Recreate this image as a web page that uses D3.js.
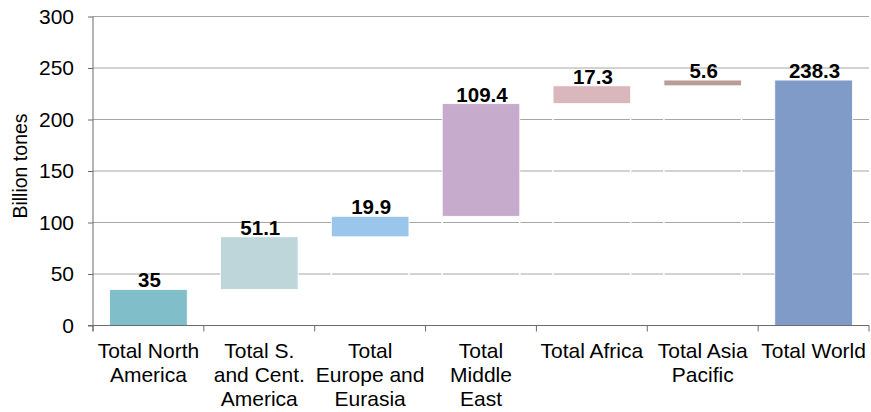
<!DOCTYPE html>
<html>
<head>
<meta charset="utf-8">
<script src="https://cdn.jsdelivr.net/npm/d3@7"></script>
<style>
  html, body { margin: 0; padding: 0; background: #fff; }
  svg { display: block; font-family: "Liberation Sans", Arial, sans-serif; }
</style>
</head>
<body>
<svg id="chart" width="871" height="412"></svg>
<script>
// Proved coal reserves by region (waterfall)
const regions = [
  ["Total North", "America"],
  ["Total S.", "and Cent.", "America"],
  ["Total", "Europe and", "Eurasia"],
  ["Total", "Middle", "East"],
  ["Total Africa"],
  ["Total Asia", "Pacific"],
  ["Total World"]
];
const values = [35, 51.1, 19.9, 109.4, 17.3, 5.6, 238.3];
const isTotal = [false, false, false, false, false, false, true];
const barColors = ["#80bfc9", "#bed5d9", "#99c6ea", "#c6abcc", "#d9b7bd", "#b89d99", "#809bc8"];
const yTicks = [0, 50, 100, 150, 200, 250, 300];

const svg = d3.select("#chart");
const plotLeft = 93, plotRight = 869, plotTop = 16.5, plotBottom = 325.5;

const keys = regions.map((r, i) => i);
const x = d3.scaleBand().domain(keys).range([plotLeft, plotRight]).padding(0);
const y = d3.scaleLinear().domain([0, 300]).range([plotBottom, plotTop]);

// running base for the floating bars
let running = 0;
const bars = values.map((v, i) => {
  let lo, hi;
  if (isTotal[i]) { lo = 0; hi = v; }
  else { lo = running; hi = running + v; running = hi; }
  return { i, v, lo, hi, color: barColors[i] };
});

const barW = x.bandwidth() * 0.7;
const bx = i => x(i) + (x.bandwidth() - barW) / 2;

// gridlines
svg.append("g")
  .selectAll("line")
  .data(yTicks.filter(t => t > 0))
  .join("line")
  .attr("x1", plotLeft).attr("x2", plotRight)
  .attr("y1", d => y(d)).attr("y2", d => y(d))
  .attr("stroke", "#a6a6a6").attr("stroke-width", 1);

// invisible base segments (white outline only)
svg.append("g")
  .selectAll("rect")
  .data(bars.filter(b => b.lo > 0))
  .join("rect")
  .attr("x", d => bx(d.i)).attr("width", barW)
  .attr("y", d => y(d.lo)).attr("height", d => y(0) - y(d.lo))
  .attr("fill", "none").attr("stroke", "#fff").attr("stroke-width", 1.5);

// visible bars
svg.append("g")
  .selectAll("rect")
  .data(bars)
  .join("rect")
  .attr("x", d => bx(d.i)).attr("width", barW)
  .attr("y", d => y(d.hi)).attr("height", d => y(d.lo) - y(d.hi))
  .attr("fill", d => d.color)
  .attr("stroke", "#fff").attr("stroke-width", 0.8);

// value labels
svg.append("g")
  .selectAll("text")
  .data(bars)
  .join("text")
  .attr("x", d => x(d.i) + x.bandwidth() / 2 + 1)
  .attr("y", d => y(d.hi) - 2)
  .attr("text-anchor", "middle")
  .attr("font-weight", "bold")
  .attr("font-size", 20.5)
  .attr("fill", "#000")
  .text(d => d.v);

// y axis
const yAxis = svg.append("g")
  .attr("transform", `translate(${plotLeft},0)`)
  .call(d3.axisLeft(y).tickValues(yTicks).tickSize(5).tickPadding(14).tickFormat(d3.format("d")));
yAxis.select(".domain").attr("stroke", "#6b6b6b").attr("d", `M0,${plotTop}V${plotBottom + 6}`);
yAxis.selectAll(".tick line").attr("stroke", "#6b6b6b");
yAxis.selectAll("text").attr("font-size", 21).attr("fill", "#000")
  .attr("font-family", "'Liberation Sans', Arial, sans-serif");

// x axis baseline and category separators
const xg = svg.append("g");
xg.append("line")
  .attr("x1", plotLeft - 5).attr("x2", plotRight)
  .attr("y1", plotBottom).attr("y2", plotBottom)
  .attr("stroke", "#6b6b6b");
xg.selectAll("line.sep")
  .data(keys.concat([keys.length]))
  .join("line")
  .attr("class", "sep")
  .attr("x1", d => d < keys.length ? x(d) : plotRight)
  .attr("x2", d => d < keys.length ? x(d) : plotRight)
  .attr("y1", plotBottom).attr("y2", plotBottom + 6)
  .attr("stroke", "#6b6b6b");

// category labels
const labels = svg.append("g")
  .selectAll("text")
  .data(regions.map((r, i) => ({ r, i })))
  .join("text")
  .attr("text-anchor", "middle")
  .attr("font-size", 21)
  .attr("fill", "#000")
  .attr("transform", d => `translate(${x(d.i) + x.bandwidth() / 2},358)`);
labels.selectAll("tspan")
  .data(d => d.r)
  .join("tspan")
  .attr("x", 0)
  .attr("y", (d, j) => j * 24)
  .text(d => d);

// y axis title
svg.append("text")
  .attr("transform", "translate(27,166) rotate(-90)")
  .attr("text-anchor", "middle")
  .attr("font-size", 19.5)
  .attr("fill", "#000")
  .text("Billion tones");
</script>
</body>
</html>
